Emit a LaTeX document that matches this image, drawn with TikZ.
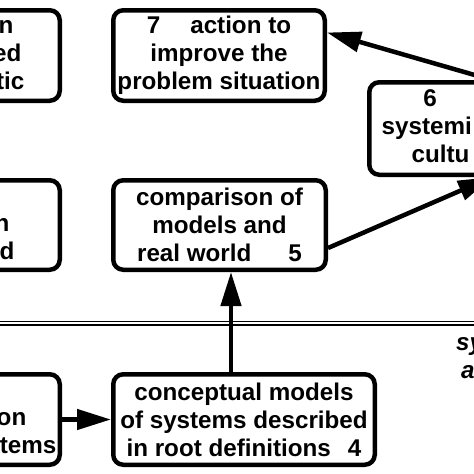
\documentclass[tikz,border=0pt]{standalone}
\usepackage{fontspec}
\setmainfont{Liberation Sans}
\usetikzlibrary{arrows.meta}
\begin{document}
\begin{tikzpicture}[x=1pt,y=-1pt,
  txt/.style={font=\fontsize{24.2}{28}\selectfont\bfseries},
  stage/.style={draw, line width=4.5pt, rounded corners=10pt, txt, align=center, inner sep=0pt},
  frag/.style={txt, inner sep=0pt},
  itfrag/.style={font=\fontsize{24.2}{28}\selectfont\bfseries\itshape, inner sep=0pt},
  arr/.style={line width=4.5pt, -{Triangle[length=34pt,width=20pt]}}]
\useasboundingbox (0,0) rectangle (474,474);
\clip (0,0) rectangle (474,474);
\fill[white] (0,0) rectangle (474,474);
% left boxes (cut by the edge)
\node[stage, minimum width=117.5pt, minimum height=90.5pt] (b1) at (1,55.5) {};
\node[stage, minimum width=117.5pt, minimum height=89.5pt] (b2) at (1,225) {};
\node[stage, minimum width=117.5pt, minimum height=90.5pt] (b3) at (1,419.5) {};
\node[frag, anchor=base east] (f1a) at (13.5,33.7) {n};
\node[frag, anchor=base east] (f1b) at (21.5,61.7) {ed};
\node[frag, anchor=base east] (f1c) at (24.5,89.7) {tic};
\node[frag, anchor=base east] (f2a) at (9.5,231.2) {n};
\node[frag, anchor=base east] (f2b) at (14.5,259.2) {d};
\node[frag, anchor=base east] (f3a) at (26.5,425.7) {on};
\node[frag, anchor=base east] (f3b) at (56.5,453.7) {tems};
% central boxes
\node[stage, minimum width=211.5pt, minimum height=90.5pt] (b7) at (219,55.5)
  {7\hspace{30pt}action to\\improve the\\problem situation};
\node[stage, minimum width=212.5pt, minimum height=89.5pt] (b5) at (219.5,225)
  {comparison of\\models and\\real world\hspace{37pt}5};
\node[stage, minimum width=261.5pt, minimum height=90.5pt] (b4) at (244,419.5)
  {conceptual models\\of systems described\\in root definitions\hspace{17pt}4};
% box 6 (cut by the edge)
\node[stage, minimum width=245.5pt, minimum height=92.5pt] (b6) at (492,128.5) {};
\node[frag, anchor=base] (f6a) at (430,106.7) {6};
\node[frag, anchor=base west] (f6b) at (381.5,134.7) {systemi};
\node[frag, anchor=base west] (f6c) at (411.5,162.7) {cultu};
% separator
\draw[line width=1.1pt, double, double distance=2.2pt] (0,323.3) -- (474,323.3);
\node[itfrag, anchor=base west] (s1) at (456,350) {sy};
\node[itfrag, anchor=base west] (s2) at (461,378) {a};
% connectors
\draw[arr] (b3.east) -- (b4.west);
\draw[arr] ([xshift=-13pt]b4.north) -- ([xshift=-13pt]b4.north |- b5.south);
\draw[arr] ([yshift=-23pt]b5.east) -- (b6.south);
\draw[arr] (b6.north) -- ([yshift=23pt]b7.east);
\end{tikzpicture}
\end{document}
